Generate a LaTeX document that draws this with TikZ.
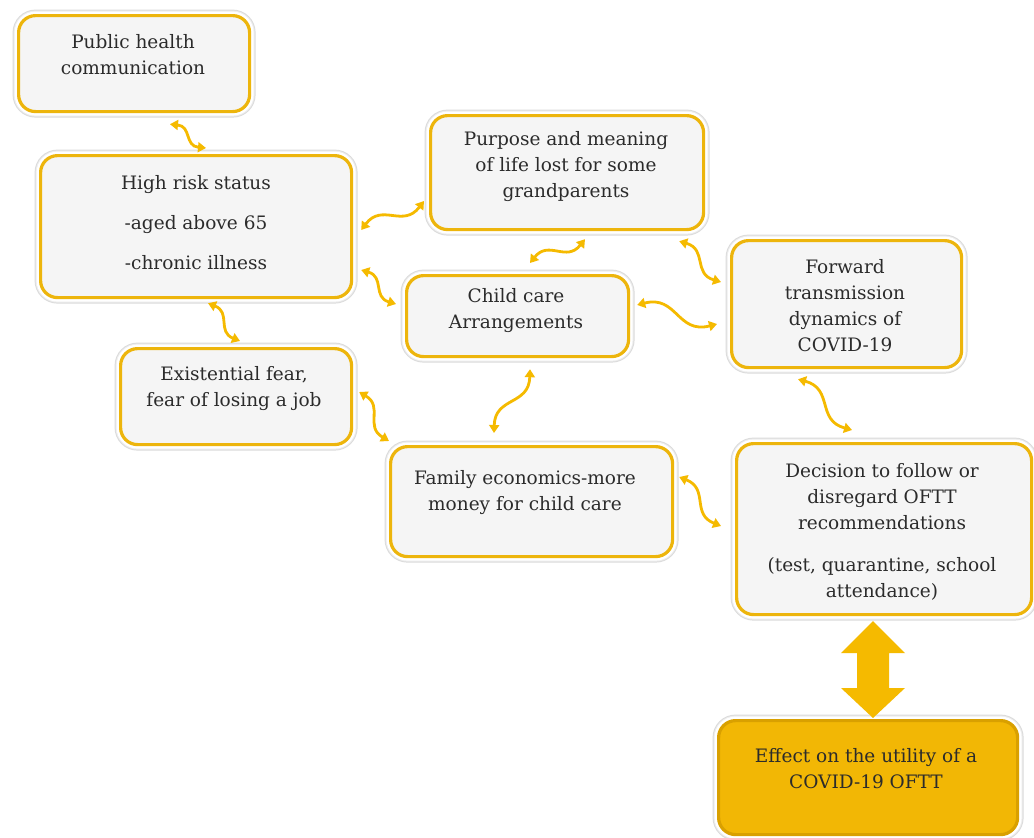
\documentclass[tikz,border=0pt]{standalone}
\usepackage{fontspec}
\setmainfont{DejaVu Serif}
\usetikzlibrary{calc,arrows.meta}
\definecolor{gold}{HTML}{EDB50C}
\definecolor{golddark}{HTML}{D9A000}
\definecolor{boxfill}{HTML}{F5F5F5}
\definecolor{ink}{HTML}{2B2B2B}
\definecolor{effectfill}{HTML}{F2B705}
\definecolor{arrowgold}{HTML}{F5BA00}
\begin{document}
\begin{tikzpicture}[x=1pt,y=-1pt,
  box/.style={draw=gold, line width=3.2pt, fill=boxfill, rounded corners=17pt,
    anchor=north west, inner sep=0pt,
    preaction={draw=black!14, line width=12pt},
    preaction={draw=black!7, line width=10pt},
    preaction={draw=white, line width=8pt}},
  txt/.style={align=center, font=\fontsize{18.5}{26}\selectfont, text=ink},
  conn/.style={draw=arrowgold, line width=2.8pt,
    {Triangle[length=8pt,width=10pt]}-{Triangle[length=8pt,width=10pt]}},
  wave/.style={to path={.. controls ($(\tikztostart)!0.5!#1:(\tikztotarget)$)
     and ($(\tikztotarget)!0.5!#1:(\tikztostart)$) .. (\tikztotarget)}},
]
\fill[white] (0,0) rectangle (1034,838);
\useasboundingbox (0,0) rectangle (1034,838);

% boxes
\node[box, minimum width=231pt, minimum height=96pt] (pub) at (17,14) {};
\node[box, minimum width=311pt, minimum height=142pt] (high) at (39,154) {};
\node[box, minimum width=273pt, minimum height=114pt] (purp) at (429,114) {};
\node[box, minimum width=222pt, minimum height=81pt] (child) at (405,274) {};
\node[box, minimum width=230pt, minimum height=127pt] (fwd) at (730,239) {};
\node[box, minimum width=231pt, minimum height=96pt] (exist) at (119,347) {};
\node[box, minimum width=282pt, minimum height=110pt] (fam) at (389,445) {};
\node[box, minimum width=295pt, minimum height=171pt] (dec) at (735,442) {};
\node[box, fill=effectfill, draw=golddark, minimum width=299pt, minimum height=114pt] (eff) at (717,719) {};

% texts
\node[txt] (pubt) at (133,55) {Public health\\communication};
\node[txt] (hight) at (196,223) {High risk status\\[14pt]-aged above 65\\[14pt]-chronic illness};
\node[txt] (purpt) at (566,167) {Purpose and meaning\\of life lost for some\\grandparents};
\node[txt] (childt) at (516,311) {Child care\\Arrangements};
\node[txt] (fwdt) at (845,306) {Forward\\transmission\\dynamics of\\COVID-19};
\node[txt] (existt) at (234,389) {Existential fear,\\fear of losing a job};
\node[txt] (famt) at (525,493) {Family economics-more\\money for child care};
\node[txt] (dect) at (882,532) {Decision to follow or\\disregard OFTT\\recommendations\\[16pt](test, quarantine, school\\attendance)};
\node[txt] (efft) at (866,769) {Effect on the utility of a\\COVID-19 OFTT};

% wavy connectors
\draw[conn] ($(pub.south west)+(153,11)$) to[wave=28] ($(high.north west)+(167,-6)$);
\draw[conn] ($(high.north east)+(8,76)$) to[wave=28] ($(purp.north west)+(-5,87)$);
\draw[conn] ($(high.north east)+(8,116)$) to[wave=28] ($(child.north west)+(-9,30)$);
\draw[conn] ($(high.south west)+(169,4)$) to[wave=28] ($(exist.north west)+(121,-6)$);
\draw[conn] ($(purp.south west)+(156,8)$) to[wave=28] ($(child.north west)+(125,-11)$);
\draw[conn] ($(purp.south east)+(-26,10)$) to[wave=28] ($(fwd.north west)+(-9,43)$);
\draw[conn] ($(child.north east)+(7,31)$) to[wave=28] ($(fwd.north west)+(-13,85)$);
\draw[conn] ($(exist.north east)+(6,45)$) to[wave=28] ($(fam.north west)+(0,-4)$);
\draw[conn] ($(child.south west)+(125,11)$) to[wave=28] ($(fam.north west)+(105,-12)$);
\draw[conn] ($(fam.north east)+(5,32)$) to[wave=28] ($(dec.north west)+(-14,84)$);
\draw[conn] ($(fwd.south west)+(68,10)$) to[wave=28] ($(dec.north west)+(117,-12)$);

% big double arrow
\coordinate (bt) at ($(dec.south west)+(138,5)$);
\coordinate (bb) at ($(eff.north west)+(156,-1)$);
\fill[arrowgold] (bt) -- ($(bt)+(32,32)$) -- ($(bt)+(16,32)$) -- ($(bb)+(16,-30)$)
  -- ($(bb)+(32,-30)$) -- (bb) -- ($(bb)+(-32,-30)$) -- ($(bb)+(-16,-30)$)
  -- ($(bt)+(-16,32)$) -- ($(bt)+(-32,32)$) -- cycle;
\end{tikzpicture}
\end{document}
